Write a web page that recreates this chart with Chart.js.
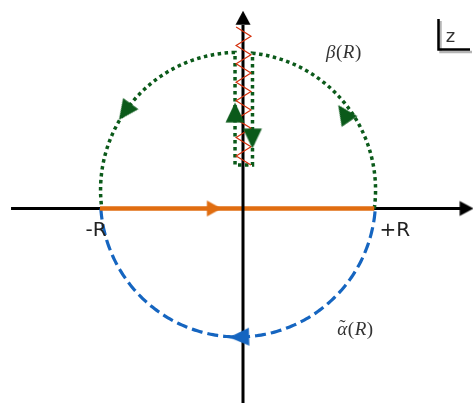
<!DOCTYPE html>
<html><head><meta charset="utf-8">
<script src="https://cdn.jsdelivr.net/npm/chart.js@4.4.1/dist/chart.umd.min.js"></script>
<style>html,body{margin:0;padding:0;background:#fff;overflow:hidden}#wrap{width:473px;height:403px;position:relative}</style>
</head><body><div id="wrap"><canvas id="c" width="473" height="403"></canvas></div>
<script>
// ---- contour geometry (units of R) ----
const arcCenterX = -0.036;
const upperArcCenterY = 0.135;
const lowerArcCenterY = 0.0655;
const arcRadius = 1.0;
const keyholeX = [-0.058, 0.069];
const keyholeBottomY = 0.316;
const realSegment = [-1.04, 0.955];
const realAxis = [-1.687, 1.585];
const imagAxis = [-1.42, 1.3345];
// branch-cut zigzag vertices
const zigzagX = [-0.05, 0.058, -0.05, 0.058, -0.05, 0.058, -0.05, 0.058, -0.05, 0.058, -0.05, 0.058, -0.05, 0.058, -0.05, 0.058];
const zigzagY = [1.32, 1.253, 1.186, 1.119, 1.052, 0.985, 0.918, 0.851, 0.784, 0.717, 0.650, 0.583, 0.516, 0.449, 0.382, 0.316];
// direction arrows
const greenArcArrowAngles = [144, 34.5];
const greenArcArrowRadius = [1.0, 0.95];
const keyholeArrowY = [0.675, 0.532];
const blueArrowAngle = 271.8;
const orangeArrowX = -0.228;
const axisArrowPos = [1.61, 1.371];
// labels
const labelTexts = ['-R', '+R', 'z'];

const D = Math.PI / 180;
function arcPoints(cx, cy, r, a0, a1, n) {
  const pts = [];
  for (let i = 0; i <= n; i++) {
    const a = (a0 + (a1 - a0) * i / n) * D;
    pts.push({x: cx + r * Math.cos(a), y: cy + r * Math.sin(a)});
  }
  return pts;
}
function tri(len, halfW, color) {
  const s = Math.ceil(Math.max(len, halfW)) * 2 + 4;
  const c = document.createElement('canvas');
  c.width = s; c.height = s;
  const g = c.getContext('2d');
  const m = s / 2;
  g.fillStyle = color;
  g.beginPath();
  g.moveTo(m, m - 2 * len / 3);
  g.lineTo(m + halfW, m + len / 3);
  g.lineTo(m - halfW, m + len / 3);
  g.closePath();
  g.fill();
  return c;
}

const GREEN = '#0b5a1a', BLUE = '#1565c0', ORANGE = '#e06d10', RED = '#d4300c';

const thStart = -Math.asin(upperArcCenterY / arcRadius) / D;
const thKeyR = Math.acos((keyholeX[1] - arcCenterX) / arcRadius) / D;
const thKeyL = Math.acos((keyholeX[0] - arcCenterX) / arcRadius) / D;
const thEnd = 180 - thStart;
const greenPath = [
  ...arcPoints(arcCenterX, upperArcCenterY, arcRadius, thStart, thKeyR, 90),
  {x: keyholeX[1], y: keyholeBottomY},
  {x: keyholeX[0], y: keyholeBottomY},
  ...arcPoints(arcCenterX, upperArcCenterY, arcRadius, thKeyL, thEnd, 90)
];
const lb = Math.asin(lowerArcCenterY / arcRadius) / D;
const bluePath = arcPoints(arcCenterX, lowerArcCenterY, arcRadius, 180 + lb, 360 - lb, 180);
const zigzag = zigzagX.map((v, i) => ({x: v, y: zigzagY[i]}));

const greenArrows = greenArcArrowAngles.map((a, i) => ({x: arcCenterX + greenArcArrowRadius[i] * Math.cos(a * D), y: upperArcCenterY + greenArcArrowRadius[i] * Math.sin(a * D)}))
  .concat([{x: keyholeX[0], y: keyholeArrowY[0]}, {x: keyholeX[1], y: keyholeArrowY[1]}]);
const greenRot = greenArcArrowAngles.map(a => -a).concat([0, 180]);
const blueArrow = [{x: arcCenterX + arcRadius * Math.cos(blueArrowAngle * D), y: lowerArcCenterY + arcRadius * Math.sin(blueArrowAngle * D)}];

const lineDs = (data, color, width, dash, order) => ({type: 'scatter', data, showLine: true, borderColor: color, backgroundColor: color,
  borderWidth: width, borderDash: dash, borderCapStyle: 'butt', borderJoinStyle: 'miter', pointRadius: 0, tension: 0, order, clip: false});
const ptDs = (data, img, rot, order) => ({type: 'scatter', data, showLine: false, pointStyle: img, pointRadius: 1, pointRotation: rot, order, clip: false});

const labelPlugin = {
  id: 'labels',
  afterDatasetsDraw(chart) {
    const {ctx} = chart; const X = chart.scales.x, Y = chart.scales.y;
    const px = v => X.getPixelForValue(v), py = v => Y.getPixelForValue(v);
    ctx.save();
    ctx.fillStyle = '#222';
    ctx.textBaseline = 'alphabetic';
    ctx.textAlign = 'center';
    ctx.font = '20px "DejaVu Sans"';
    ctx.fillText(labelTexts[0], px(-1.069), py(-0.2));
    ctx.fillText(labelTexts[1], px(1.105), py(-0.2));
    // math labels
    ctx.textAlign = 'left';
    const it = 'italic 19px "Liberation Serif"', up = '19px "Liberation Serif"';
    function rich(parts, x0, y0) {
      let cx = x0;
      for (const [t, f] of parts) { ctx.font = f; ctx.fillText(t, cx, y0); cx += ctx.measureText(t).width + 0.5; }
    }
    ctx.fillStyle = '#333';
    rich([['β', it], ['(', up], ['R', it], [')', up]], px(0.6036), py(1.095));
    const ax = px(0.686), ay = py(-0.917);
    rich([['α', it], ['(', up], ['R', it], [')', up]], ax, ay);
    ctx.font = up; ctx.fillText('˜', ax + 2, ay - 2);
    // z box
    const zx = px(1.509), zy = py(1.213);
    ctx.strokeStyle = '#b5b5b5'; ctx.lineWidth = 2.5; ctx.lineCap = 'butt';
    ctx.beginPath(); ctx.moveTo(440.5, 21); ctx.lineTo(440.5, 52); ctx.lineTo(472, 52); ctx.stroke();
    ctx.strokeStyle = '#000';
    ctx.beginPath(); ctx.moveTo(438.5, 19); ctx.lineTo(438.5, 49.5); ctx.lineTo(470, 49.5); ctx.stroke();
    ctx.fillStyle = '#333'; ctx.textAlign = 'center'; ctx.font = '18px "DejaVu Sans"';
    ctx.fillText(labelTexts[2], zx, zy);
    ctx.restore();
  }
};

new Chart(document.getElementById('c'), {
  type: 'scatter',
  data: {datasets: [
    ptDs(greenArrows, tri(20, 9.5, GREEN), greenRot, 0),
    ptDs(blueArrow, tri(20, 9, BLUE), [180 - blueArrowAngle], 0),
    ptDs([{x: orangeArrowX, y: 0}], tri(14.5, 8, ORANGE), [90], 0),
    ptDs([{x: axisArrowPos[0], y: 0}, {x: 0, y: axisArrowPos[1]}], tri(14, 7.5, '#000'), [90, 0], 0),
    lineDs(zigzag, RED, 1.2, [], 1),
    lineDs([{x: 0, y: imagAxis[0]}, {x: 0, y: imagAxis[1]}], '#000', 3, [], 2),
    lineDs([{x: realSegment[0], y: 0}, {x: realSegment[1], y: 0}], ORANGE, 4.5, [], 3),
    lineDs(greenPath, GREEN, 3.5, [3.5, 3.5], 4),
    lineDs(bluePath, BLUE, 3.2, [11, 5], 5),
    lineDs([{x: realAxis[0], y: 0}, {x: realAxis[1], y: 0}], '#000', 3, [], 6)
  ]},
  options: {
    responsive: false, animation: false, events: [], devicePixelRatio: 1,
    layout: {padding: 0, autoPadding: false},
    plugins: {legend: {display: false}, tooltip: {enabled: false}, title: {display: false}},
    scales: {
      x: {type: 'linear', display: false, min: -1.7673, max: 1.6727},
      y: {type: 'linear', display: false, min: -1.4145, max: 1.5164}
    }
  },
  plugins: [labelPlugin]
});
</script></body></html>
